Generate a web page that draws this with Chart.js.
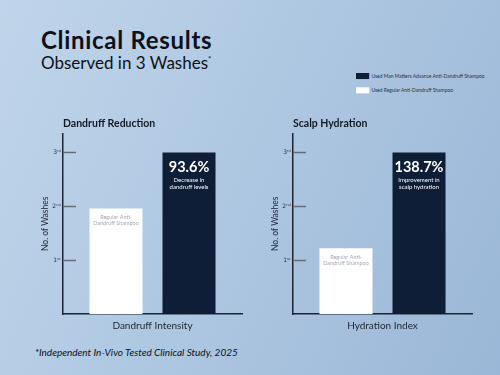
<!DOCTYPE html>
<html>
<head>
<meta charset="utf-8">
<script src="https://cdn.jsdelivr.net/npm/chart.js@4"></script>
<style>
  html, body { margin: 0; padding: 0; }
  #page {
    position: relative; width: 500px; height: 375px; overflow: hidden;
    background: linear-gradient(115deg, #c0d5ea 0%, #afc8e2 45%, #9bb7d7 100%);
    font-family: 'Lato', sans-serif; color: #0d1119;
  }
  #title { position: absolute; left: 41px; top: 25px; font-size: 24px; font-weight: 700; letter-spacing: 0.7px; }
  #subtitle { position: absolute; left: 41px; top: 52px; font-size: 17px; }
  #subtitle sup { font-size: 8px; vertical-align: 7px; }
  /* tiny legend: drawn at 9px and scaled down */
  #legend { position: absolute; left: 356px; top: 73px; transform: scale(0.55); transform-origin: 0 0; }
  .item { display: flex; align-items: center; height: 11px; margin-bottom: 14.5px; font-size: 9px; color: #2a3242; white-space: nowrap; }
  .swatch { width: 24px; height: 11px; margin-right: 4px; flex: none; }
  #note { position: absolute; left: 35px; top: 346px; font-size: 10px; font-style: italic; }
  canvas { position: absolute; top: 105px; }
  #c0 { left: 0; }
  #c1 { left: 230px; }
</style>
</head>
<body>
<div id="page">
  <div id="title">Clinical Results</div>
  <div id="subtitle">Observed in 3 Washes<sup>*</sup></div>
  <div id="legend"></div>
  <canvas id="c0" width="250" height="240"></canvas>
  <canvas id="c1" width="250" height="240"></canvas>
  <div id="note">*Independent In-Vivo Tested Clinical Study, 2025</div>
</div>
<script>
// data
const seriesNames = ['Used Regular Anti-Dandruff Shampoo', 'Used Man Matters Advance Anti-Dandruff Shampoo'];
const seriesColors = ['#ffffff', '#0e1e37'];
const chartTitles = ['Dandruff Reduction', 'Scalp Hydration'];
const xTitles = ['Dandruff Intensity', 'Hydration Index'];
const regularValues = [1.96, 1.22];
const advanceValues = [3, 3];
const yTickValues = [1, 2, 3];
const yTickLabels = ['1\u02e2\u1d57', '2\u207f\u1d48', '3\u02b3\u1d48'];
const highlightValues = ['93.6%', '138.7%'];
const highlightNotes = [['Decrease in', 'dandruff levels'], ['Improvement in', 'scalp hydration']];
const regularNote = ['Regular Anti-', 'Dandruff Shampoo'];

const FONT = 'Lato, sans-serif';
const DARK = '#1d2431';

// legend (dark first like the original)
const legend = document.getElementById('legend');
[1, 0].forEach(i => {
    const row = document.createElement('div');
    row.className = 'item';
    row.innerHTML = `<div class="swatch" style="background:${seriesColors[i]}"></div><span>${seriesNames[i]}</span>`;
    legend.appendChild(row);
});

// tick marks pointing inward + text inside the bars
const decor = {
    id: 'decor',
    afterDatasetsDraw(chart, args, opts) {
        const ctx = chart.ctx;
        const y = chart.scales.y;
        const left = chart.chartArea.left;
        ctx.save();
        ctx.strokeStyle = '#646c79';
        ctx.lineWidth = 1.5;
        y.ticks.forEach(t => {
            const py = Math.round(y.getPixelForValue(t.value)) + 0.5;
            ctx.beginPath();
            ctx.moveTo(left, py);
            ctx.lineTo(left + 13, py);
            ctx.stroke();
        });

        const i = opts.index;
        const dark = chart.getDatasetMeta(1).data[0];
        ctx.textAlign = 'center';
        ctx.textBaseline = 'middle';
        ctx.fillStyle = '#ffffff';
        ctx.font = `bold 14.5px ${FONT}`;
        ctx.fillText(highlightValues[i], dark.x, dark.y + 15);
        ctx.font = `6px ${FONT}`;
        highlightNotes[i].forEach((s, k) => ctx.fillText(s, dark.x, dark.y + 28 + k * 6.5));

        const white = chart.getDatasetMeta(0).data[0];
        ctx.fillStyle = '#a3a8b0';
        ctx.font = `5.5px ${FONT}`;
        regularNote.forEach((s, k) => ctx.fillText(s, white.x, white.y + 9 + k * 6));
        ctx.restore();
    }
};

function makeChart(id, i) {
    return new Chart(document.getElementById(id), {
        type: 'bar',
        data: {
            labels: [xTitles[i]],
            datasets: [
                { label: seriesNames[0], data: [regularValues[i]], backgroundColor: seriesColors[0] },
                { label: seriesNames[1], data: [advanceValues[i]], backgroundColor: seriesColors[1] }
            ]
        },
        options: {
            responsive: false,
            animation: false,
            layout: { padding: { left: 0, right: 8, top: 0, bottom: 0 } },
            datasets: { bar: { categoryPercentage: 0.816, barPercentage: 0.726, borderWidth: 0 } },
            plugins: {
                legend: { display: false },
                tooltip: { enabled: false },
                title: {
                    display: true, text: chartTitles[i], align: 'start', fullSize: false,
                    color: '#141a24', font: { family: FONT, size: 10.5, weight: 'bold' },
                    padding: { top: 12, bottom: 4 }
                },
                decor: { index: i }
            },
            scales: {
                x: {
                    afterFit: s => { s.height = 31; },
                    grid: { display: false },
                    border: { color: DARK, width: 1.5 },
                    ticks: { display: false },
                    title: {
                        display: true, text: xTitles[i], color: DARK,
                        font: { family: FONT, size: 10 }, padding: { top: 0, bottom: 13 }
                    }
                },
                y: {
                    min: 0, max: 3.35,
                    afterFit: s => { s.width = 63; },
                    afterBuildTicks: s => { s.ticks = yTickValues.map(v => ({ value: v })); },
                    grid: { drawOnChartArea: false, drawTicks: false },
                    border: { color: DARK, width: 1.5 },
                    ticks: {
                        padding: 2, color: '#2a3140', font: { family: 'DejaVu Sans', size: 6 },
                        callback: v => yTickLabels[yTickValues.indexOf(v)]
                    },
                    title: {
                        display: true, text: 'No. of Washes', color: DARK,
                        font: { family: FONT, size: 8.5 }, padding: { top: 40, bottom: 0 }
                    }
                }
            }
        },
        plugins: [decor]
    });
}

makeChart('c0', 0);
makeChart('c1', 1);
</script>
</body>
</html>
